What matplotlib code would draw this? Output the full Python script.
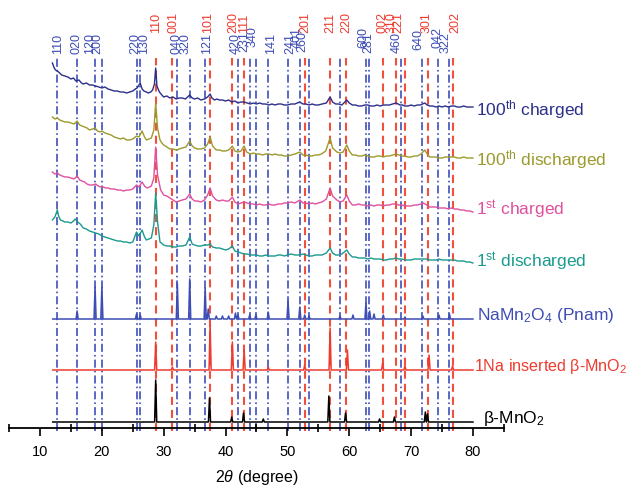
import matplotlib
matplotlib.use("Agg")
import matplotlib.pyplot as plt
from matplotlib.ticker import MultipleLocator

plt.rcParams["font.family"] = "Liberation Sans"
plt.rcParams["mathtext.fontset"] = "custom"
plt.rcParams["mathtext.rm"] = "Liberation Sans"
plt.rcParams["mathtext.it"] = "Liberation Sans:italic"
plt.rcParams["lines.scale_dashes"] = False

# ---- measured patterns: (2theta, intensity a.u. above own offset) ----
charged_100 = [
    (12.0, 45), (12.3, 40), (12.5, 38), (12.8, 37), (13.0, 36), (13.5, 33), (14.0, 32), (14.5, 31), (15.0, 29),
    (15.4, 30), (15.8, 27), (16.3, 28), (16.7, 25), (17, 24), (17.5, 25), (18, 23), (18.5, 23), (19, 22),
    (19.5, 21), (20, 20), (20.5, 21), (21, 19), (21.5, 18), (22, 17), (22.5, 17), (23, 16), (23.5, 16),
    (24, 15), (24.5, 16), (25, 17), (25.4, 19), (25.7, 20), (26.2, 25), (26.5, 19), (26.8, 17), (27.2, 16),
    (27.5, 15), (27.9, 16), (28.2, 18), (28.5, 24), (28.7, 40), (28.9, 22), (29.3, 16), (29.7, 13), (30, 11),
    (30.5, 12), (31, 10), (31.5, 11), (32, 9), (32.5, 10), (33, 10), (33.5, 9), (34.2, 13), (34.6, 10),
    (35, 9), (35.5, 10), (36, 8), (36.6, 9), (37.1, 11), (37.5, 14), (37.8, 10), (38.2, 8), (38.6, 9),
    (39, 8), (39.5, 8), (40, 7), (40.5, 8), (41, 6), (41.5, 7), (42, 5), (42.5, 6), (43, 6), (43.5, 5),
    (44, 4), (44.5, 5), (45, 4), (45.5, 5), (46, 4), (46.5, 4), (47, 3), (47.5, 4), (48, 3), (48.5, 4),
    (49, 4), (49.5, 3), (50, 3), (50.6, 4), (51.2, 4), (52, 6), (52.5, 4), (53, 4), (53.5, 3), (54, 4),
    (54.5, 3), (55, 3), (55.6, 4), (56.3, 5), (56.9, 11), (57.3, 6), (57.8, 4), (58.3, 4), (58.8, 3),
    (59.6, 8), (60.0, 5), (60.5, 3), (61, 3), (61.5, 2), (62, 2), (62.5, 3), (63, 3), (63.5, 2), (64, 2),
    (64.5, 3), (65, 2), (65.5, 3), (66, 3), (66.5, 3), (67, 4), (67.6, 5), (68.2, 3), (68.6, 3), (69, 2),
    (69.5, 2), (70, 3), (70.5, 2), (71, 3), (71.5, 3), (72.2, 5), (72.6, 3), (73, 2), (73.5, 2), (74, 1),
    (74.5, 2), (75, 1), (75.5, 2), (76, 1), (76.5, 2), (77, 2), (77.5, 1), (78, 1), (78.5, 2), (79, 1),
    (79.5, 1), (80, 1)]

discharged_100 = [
    (12.0, 41), (12.4, 39), (12.8, 40), (13.2, 38), (13.6, 37), (14.0, 36), (14.5, 36), (15.0, 35), (15.5, 34),
    (16.0, 37), (16.4, 33), (16.8, 32), (17.2, 31), (17.6, 30), (18.0, 28), (18.5, 29), (18.9, 30), (19.3, 27),
    (19.7, 26), (20.0, 27), (20.5, 25), (21, 24), (21.5, 23), (22, 21), (22.5, 20), (23, 19), (23.5, 20),
    (24, 18), (24.5, 18), (25, 19), (25.6, 22), (26.0, 21), (26.5, 27), (26.9, 21), (27.2, 18), (27.6, 19),
    (28.0, 20), (28.4, 28), (28.7, 55), (29.0, 30), (29.4, 18), (29.7, 15), (30, 13), (30.5, 11), (31, 9),
    (31.5, 9), (32, 8), (32.5, 9), (33, 10), (33.6, 11), (34.2, 17), (34.6, 12), (35, 10), (35.5, 9),
    (36, 9), (36.6, 10), (37.1, 14), (37.5, 21), (37.9, 12), (38.5, 8), (39, 8), (39.5, 7), (40, 7),
    (40.5, 8), (41.1, 12), (41.5, 7), (42, 6), (42.5, 7), (43, 12), (43.4, 6), (44, 4), (44.5, 5), (45, 4),
    (45.5, 4), (46, 3), (46.5, 4), (47, 4), (47.5, 3), (48, 4), (48.5, 3), (49, 3), (49.5, 2), (50, 2),
    (50.6, 3), (51.2, 4), (52, 6), (52.5, 3), (53, 3), (53.5, 2), (54, 2), (54.5, 3), (55, 3), (55.5, 4),
    (56.2, 7), (56.9, 20), (57.3, 10), (58, 6), (58.5, 5), (59, 6), (59.6, 13), (60, 7), (60.5, 3), (61, 3),
    (61.5, 2), (62, 2), (62.5, 3), (63, 2), (63.5, 1), (64, 1), (64.5, 2), (65, 2), (65.5, 1), (66, 2),
    (66.5, 2), (67, 3), (67.6, 4), (68, 3), (68.5, 2), (69, 2), (69.5, 1), (70, 1), (70.5, 2), (71, 2),
    (71.6, 4), (72.2, 8), (72.6, 4), (73, 1), (73.5, 1), (74, 1), (74.5, 0), (75, 0), (75.5, 1), (76, 1),
    (76.5, 1), (77, 1), (77.5, 0), (78, 0), (78.5, 1), (79, 0), (79.5, 0), (80, 0)]

charged_1 = [
    (12.0, 36), (12.4, 34), (12.8, 35), (13.2, 33), (13.6, 32), (14.0, 31), (14.5, 31), (15.0, 30), (15.5, 29),
    (16.0, 32), (16.4, 28), (16.8, 27), (17.2, 26), (17.6, 24), (18.0, 23), (18.5, 23), (19.0, 24), (19.4, 22),
    (19.8, 21), (20.2, 21), (20.6, 20), (21, 20), (21.5, 19), (22, 19), (22.5, 18), (23, 18), (23.5, 17),
    (24, 18), (24.5, 18), (25, 19), (25.6, 23), (26.0, 21), (26.5, 26), (26.9, 22), (27.3, 20), (27.7, 21),
    (28.0, 22), (28.4, 30), (28.7, 61), (29.0, 33), (29.5, 18), (30, 13), (30.5, 12), (31, 10), (31.5, 8),
    (32, 6), (32.5, 7), (33, 8), (33.6, 9), (34.2, 14), (34.6, 9), (35, 7), (35.5, 7), (36, 6), (36.6, 8),
    (37.1, 13), (37.5, 20), (37.9, 12), (38.5, 8), (39, 7), (39.5, 8), (40, 7), (40.5, 7), (41.1, 11),
    (41.5, 6), (42, 4), (42.5, 5), (43, 6), (43.5, 5), (44, 4), (44.5, 4), (45, 3), (45.5, 4), (46, 3),
    (46.5, 3), (47, 4), (47.5, 3), (48, 3), (48.5, 4), (49, 4), (49.5, 5), (50, 5), (50.6, 6), (51.2, 5),
    (52, 8), (52.5, 5), (53, 5), (53.5, 4), (54, 5), (54.5, 4), (55, 5), (55.6, 6), (56.3, 9), (56.9, 20),
    (57.3, 12), (58, 8), (58.5, 6), (59, 7), (59.6, 13), (60, 7), (60.5, 3), (61, 3), (61.5, 4), (62, 3),
    (62.5, 3), (63, 2), (63.5, 3), (64, 2), (64.5, 3), (65, 3), (65.5, 2), (66, 3), (66.5, 3), (67, 4),
    (67.6, 4), (68, 3), (68.5, 3), (69, 2), (69.5, 2), (70, 2), (70.5, 3), (71, 3), (71.6, 4), (72, 5),
    (72.5, 3), (73, 1), (73.5, 1), (74, 1), (74.5, 0), (75, 0), (75.5, 0), (76, -1), (76.5, 0), (77, -1),
    (77.5, -1), (78, -2), (78.5, -2), (79, -3), (79.5, -3), (80, -4)]

discharged_1 = [
    (12.0, 40), (12.4, 43), (12.8, 50), (13.0, 44), (13.3, 40), (13.7, 39), (14.0, 38), (14.5, 38), (15.0, 37),
    (15.4, 39), (15.7, 41), (16.1, 38), (16.5, 36), (17, 32), (17.5, 31), (18, 29), (18.5, 28), (19, 27),
    (19.5, 26), (20, 24), (20.5, 23), (21, 22), (21.5, 21), (22, 20), (22.5, 19), (23, 19), (23.5, 18),
    (24, 18), (24.5, 17), (25, 18), (25.6, 28), (26.0, 24), (26.5, 30), (26.9, 23), (27.2, 20), (27.6, 21),
    (28, 22), (28.4, 35), (28.7, 67), (29.0, 38), (29.4, 18), (29.8, 16), (30, 15), (30.5, 14), (31, 14),
    (31.5, 13), (32, 13), (32.5, 14), (33, 14), (33.6, 15), (34.2, 23), (34.6, 16), (35, 15), (35.5, 14),
    (36, 14), (36.6, 15), (37.1, 15), (37.5, 16), (37.9, 13), (38.5, 12), (39, 12), (39.5, 11), (40, 10),
    (40.5, 11), (41.1, 14), (41.5, 9), (42, 8), (42.5, 7), (43, 6), (43.5, 6), (44, 5), (44.5, 5), (45, 5),
    (45.5, 4), (46, 4), (46.5, 5), (47, 4), (47.5, 4), (48, 4), (48.5, 5), (49, 5), (49.5, 4), (50, 5),
    (50.6, 6), (51.2, 5), (52, 5), (52.5, 6), (53, 5), (53.5, 4), (54, 4), (54.5, 5), (55, 5), (55.6, 5),
    (56.3, 7), (56.9, 12), (57.3, 7), (57.8, 5), (58.3, 5), (58.8, 6), (59.6, 10), (60, 6), (60.5, 3),
    (61, 3), (61.5, 2), (62, 2), (62.5, 2), (63, 1), (63.5, 2), (64, 1), (64.5, 1), (65, 1), (65.5, 0),
    (66, 0), (66.5, 1), (67, 1), (67.5, 2), (68, 1), (68.5, 1), (69, 0), (69.5, 0), (70, 0), (70.5, 1),
    (71, 1), (71.5, 1), (72, 1), (72.5, 1), (73, 0), (73.5, 0), (74, 0), (74.5, 1), (75, 0), (75.5, 0),
    (76, 0), (76.5, 0), (77, 0), (77.5, -1), (78, -1), (78.5, -1), (79, -2), (79.5, -2), (80, -3)]

# ---- reference patterns: peak positions and heights ----
pnam_pos = [16.0, 18.9, 20.0, 25.6, 26.2, 32.2, 34.2, 36.7, 37.2, 38.5, 39.5, 40.5, 41.6, 42.0, 43.9,
            44.9, 46.9, 50.1, 52.0, 52.8, 53.5, 58.5, 60.6, 62.7, 63.3, 64.0, 65.5, 69.0, 71.9, 74.5, 76.2]
pnam_h = [8, 32, 32, 5, 4, 36, 40, 31, 10, 3, 3, 3, 6, 4, 4,
          4, 7, 18, 12, 4, 3, 3, 4, 16, 8, 5, 4, 2, 3, 4, 5]

na_pos = [28.7, 31.4, 37.5, 41.1, 43.0, 46.9, 52.8, 56.9, 59.7, 65.4, 69.0, 72.9, 76.7]
na_h = [28, 3, 45, 28, 20, 3, 5, 42, 20, 7, 4, 15, 4]

beta_pos = [28.7, 37.4, 41.0, 42.9, 46.1, 56.7, 59.4, 64.9, 67.3, 72.3, 72.65]
beta_h = [42, 24, 5, 9, 3, 26, 9, 3, 5, 10, 8]

offsets = {"c100": 320, "d100": 270, "c1": 220, "d1": 168, "pnam": 109, "na": 58, "beta": 6}

# ---- reflection markers ----
pnam_lines = [12.8, 16.0, 18.9, 20.0, 25.6, 26.2, 32.2, 34.2, 36.7, 42.0, 43.9, 44.9, 46.9, 50.1,
              52.0, 53.5, 58.5, 62.7, 63.2, 68.3, 71.8, 74.3, 76.2]
pnam_hkl = ["110", "020", "120", "200", "220", "130", "040", "320", "121", "420", "231", "340", "141",
            "241", "401", "260", "600", "281", "460", "640", "042", "322"]
pnam_hkl_x = [12.96, 15.93, 18.08, 19.26, 25.36, 26.81, 32.10, 33.60, 36.95, 41.7, 43.06, 44.43, 47.3,
              50.4, 51.46, 52.35, 62.2, 63.1, 67.6, 71.1, 74.3, 75.5]
pnam_hkl_y = [374, 374, 374, 374, 374, 374, 374, 374, 374, 374, 376, 381, 374,
              374, 380, 376, 380, 375, 375, 378, 380, 375]

beta_lines = [28.7, 31.4, 37.5, 41.1, 42.96, 52.8, 56.9, 59.5, 65.5, 67.6, 69.0, 72.8, 76.7]
beta_hkl = ["110", "001", "101", "200", "111", "201", "211", "220", "002", "310", "221", "301", "202"]
beta_hkl_x = [28.7, 31.55, 37.2, 41.25, 42.98, 52.84, 56.88, 59.58, 65.45, 66.85, 67.92, 72.51, 77.09]

BLUE = "#3d4db5"
RED = "#ee3b2f"


def stick(pos, h, w=0.17, start=12.05, end=80.0):
    xs, ys = [start], [0]
    for p, v in sorted(zip(pos, h)):
        xs += [p - w, p, p + w]
        ys += [0, v, 0]
    xs.append(end)
    ys.append(0)
    return xs, ys


fig = plt.figure(figsize=(6.35, 4.87), dpi=100)
ax = fig.add_axes([0.01433, 0.12115, 0.7792, 0.87885])
ax.set_xlim(5, 85)
ax.set_ylim(0, 428)

for x in pnam_lines:
    ax.plot([x, x], [-3, 370], color="#4d5dc0", lw=1.3, ls=(0, (5.8, 2.2, 1.2, 2.2)), zorder=1, clip_on=False)
for x in beta_lines:
    ax.plot([x, x], [-3, 370], color="#f0503c", lw=1.5, ls=(0, (5.8, 3.6)), zorder=1, clip_on=False)

for lab, x, y in zip(pnam_hkl, pnam_hkl_x, pnam_hkl_y):
    ax.text(x, y, lab, rotation=90, ha="center", va="bottom", fontsize=9, color=BLUE)
for lab, x in zip(beta_hkl, beta_hkl_x):
    ax.text(x, 395, lab, rotation=90, ha="center", va="bottom", fontsize=9, color=RED)

curves = [
    (charged_100, "c100", "#2b2f8a", "100$^{\\mathrm{th}}$ charged"),
    (discharged_100, "d100", "#9c9a2c", "100$^{\\mathrm{th}}$ discharged"),
    (charged_1, "c1", "#e0509e", "1$^{\\mathrm{st}}$ charged"),
    (discharged_1, "d1", "#1a9a8e", "1$^{\\mathrm{st}}$ discharged"),
]
for data, key, col, lab in curves:
    off = offsets[key]
    xs = [p[0] for p in data]
    ys = [p[1] + off for p in data]
    ax.plot(xs, ys, color=col, lw=1.0, zorder=2)
    ax.text(80.5, off - 2, lab, color=col, fontsize=12.5, va="center", ha="left")

sticks = [
    (pnam_pos, pnam_h, "pnam", BLUE, "NaMn$_2$O$_4$ (Pnam)", 80.6, 12.5),
    (na_pos, na_h, "na", RED, "1Na inserted β-MnO$_2$", 80.2, 11.6),
    (beta_pos, beta_h, "beta", "black", "β-MnO$_2$", 81.7, 12.5),
]
for pos, h, key, col, lab, tx, fs in sticks:
    xs, ys = stick(pos, h)
    off = offsets[key]
    ax.plot(xs, [v + off for v in ys], color=col, lw=1.1, zorder=2)
    ax.text(tx, off + 3, lab, color=col, fontsize=fs, va="center", ha="left")

for s in ["left", "top", "right"]:
    ax.spines[s].set_visible(False)
ax.spines["bottom"].set_linewidth(1.3)
ax.set_yticks([])
ax.xaxis.set_major_locator(MultipleLocator(10))
ax.xaxis.set_minor_locator(MultipleLocator(5))
ax.tick_params(axis="x", which="major", direction="out", length=6, width=1.2, labelsize=10.5, pad=6)
ax.tick_params(axis="x", which="minor", direction="inout", length=6, width=1.2)
ax.set_xlabel("2$\\theta$ (degree)", fontsize=11.5, labelpad=7)

fig.savefig("out.png", dpi=100)
